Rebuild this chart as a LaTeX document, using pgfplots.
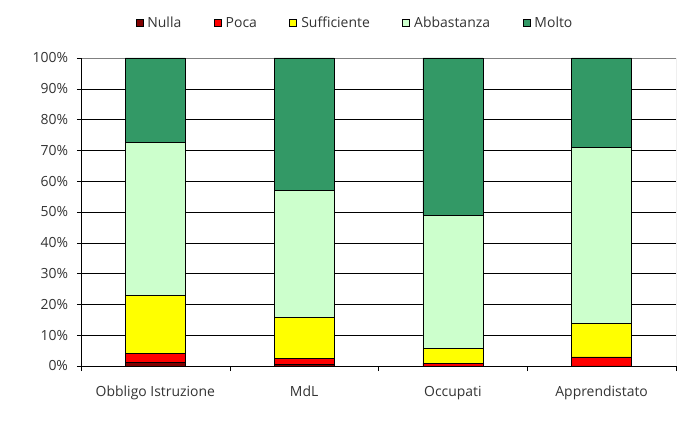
\documentclass[border=0pt]{standalone}
\usepackage{pgfplots}
\pgfplotsset{compat=1.18}
\usepackage{fontspec}
\setmainfont{Open Sans}
\definecolor{nulla}{HTML}{800000}
\definecolor{poca}{HTML}{FF0000}
\definecolor{suff}{HTML}{FFFF00}
\definecolor{abba}{HTML}{CCFFCC}
\definecolor{molto}{HTML}{339966}
\definecolor{txt}{HTML}{333333}
\begin{document}
\begin{tikzpicture}
\useasboundingbox (-81bp,-56bp) rectangle (610bp,366bp);
\begin{axis}[
    at={(0,0)}, anchor=south west,
    scale only axis,
    width=595bp, height=308bp,
    ybar stacked,
    bar width=60bp,
    xmin=0, xmax=4,
    ymin=0, ymax=100,
    xtick={0.5,1.5,2.5,3.5},
    xticklabels={Obbligo Istruzione, MdL, Occupati, Apprendistato},
    minor xtick={0,1,2,3,4},
    major x tick style={draw=none},
    minor x tick style={black, thin},
    minor tick length=5bp,
    xtick pos=bottom,
    ytick={0,10,...,100},
    yticklabel={\pgfmathprintnumber{\tick}\%},
    ytick pos=left,
    tick align=outside,
    major tick length=4bp,
    y tick style={black, thin},
    ymajorgrids,
    grid style={black, thin},
    axis line style={draw=none},
    tick label style={font=\fontsize{14}{16}\selectfont, text=txt},
    /pgf/number format/assume math mode=true,
    xticklabel style={anchor=center, text height=0.75em, text depth=0.25em, yshift=-24bp},
    yticklabel style={xshift=-5.5bp},
    legend style={
        at={(0.46,1)}, yshift=35bp, anchor=center,
        draw=none, font=\fontsize{14}{16}\selectfont, text=txt,
        legend columns=-1,
        nodes={inner sep=1.5bp},
        /tikz/every odd column/.append style={column sep=3bp},
        /tikz/every even column/.append style={column sep=31bp},
    },
    legend image code/.code={\draw[#1, draw=black] (0bp,-3.5bp) rectangle (7bp,3.5bp);},
    every axis plot/.append style={draw=black, thin},
]
\addplot[fill=nulla] coordinates {(0.5,1.2) (1.5,0.5) (2.5,0.05) (3.5,0.05)};
\addplot[fill=poca] coordinates {(0.5,3.0) (1.5,2.0) (2.5,0.9) (3.5,2.9)};
\addplot[fill=suff] coordinates {(0.5,18.7) (1.5,13.3) (2.5,4.8) (3.5,11.0)};
\addplot[fill=abba] coordinates {(0.5,49.7) (1.5,41.2) (2.5,43.2) (3.5,57.1)};
\addplot[fill=molto] coordinates {(0.5,27.4) (1.5,43.0) (2.5,51.05) (3.5,28.95)};
\legend{Nulla, Poca, Sufficiente, Abbastanza, Molto}
\draw[black, thin] (axis cs:0,0) -- (axis cs:0,100);
\draw[black, thin] (axis cs:0,0) -- (axis cs:4,0);
\draw[gray, thin] (axis cs:0,100) -- (axis cs:4,100) -- (axis cs:4,0);
\end{axis}
\end{tikzpicture}
\end{document}
